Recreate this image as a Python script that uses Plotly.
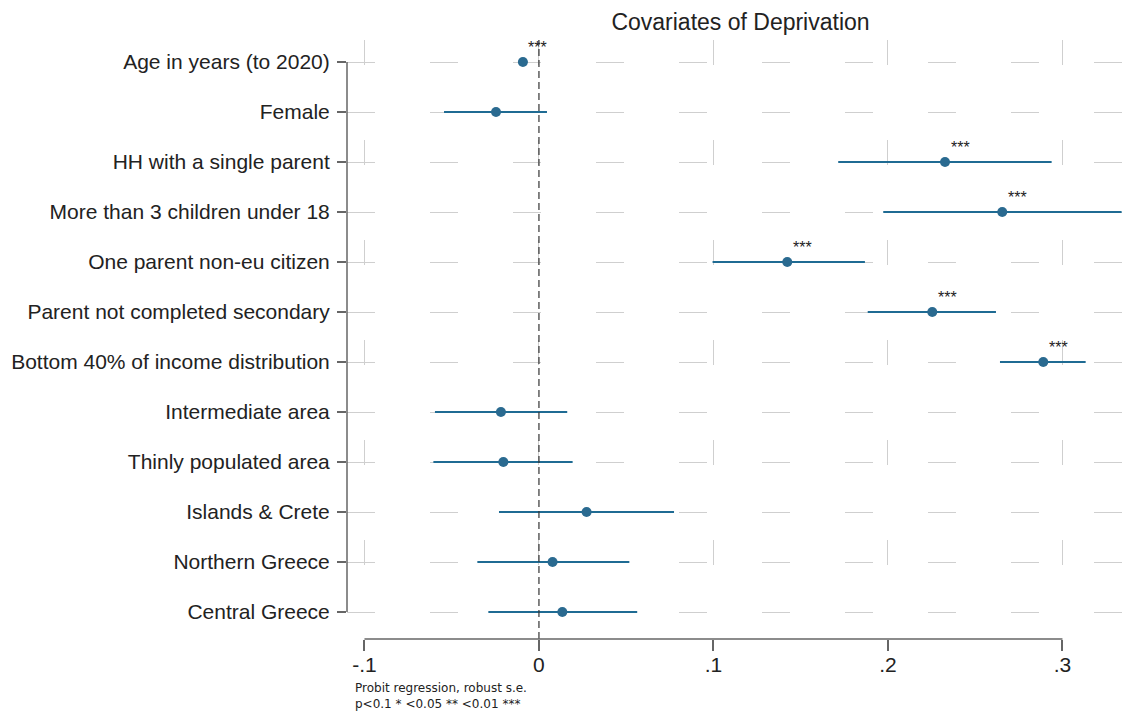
import plotly.graph_objects as go

# ---- data ----
labels = [
    "Age in years (to 2020)",
    "Female",
    "HH with a single parent",
    "More than 3 children under 18",
    "One parent non-eu citizen",
    "Parent not completed secondary",
    "Bottom 40% of income distribution",
    "Intermediate area",
    "Thinly populated area",
    "Islands & Crete",
    "Northern Greece",
    "Central Greece",
]
coef = [-0.0092, -0.0246, 0.2327, 0.2655, 0.1423, 0.2254, 0.2890,
        -0.0218, -0.0204, 0.0273, 0.0078, 0.0134]
ci_lo = [-0.0118, -0.0544, 0.1715, 0.1973, 0.0995, 0.1884, 0.2642,
         -0.0596, -0.0605, -0.0229, -0.0353, -0.0290]
ci_hi = [-0.0066, 0.0046, 0.2938, 0.3339, 0.1868, 0.2619, 0.3133,
         0.0162, 0.0193, 0.0774, 0.0518, 0.0563]
stars = ["***", "", "***", "***", "***", "***", "***", "", "", "", "", ""]
x_tickvals = [-0.1, 0, 0.1, 0.2, 0.3]
x_ticktext = ["-.1", "0", ".1", ".2", ".3"]

rows = list(range(len(labels)))

# page has an 8px body offset; margins compensate for it
W, H = 1134, 724
L, R, T, B = 339, 8, 32, 93
plot_w = W - L - R
plot_h = H - T - B

col = "#1f6b93"
txt = "#222222"
axc = "#666666"

fig = go.Figure()
fig.add_trace(go.Scatter(
    x=coef, y=rows, mode="markers",
    marker=dict(size=10, color="#2a6a90"),
    error_x=dict(type="data", symmetric=False,
                 array=[h - c for h, c in zip(ci_hi, coef)],
                 arrayminus=[c - l for c, l in zip(coef, ci_lo)],
                 thickness=2, width=0, color=col),
    cliponaxis=False, showlegend=False, hoverinfo="skip",
))

annotations = []
for c, r, s in zip(coef, rows, stars):
    if s:
        annotations.append(dict(x=c, y=r, xref="x", yref="y", text=s,
                                showarrow=False, xshift=15, yshift=15,
                                font=dict(size=16, color=txt,
                                          family="Liberation Sans, Arial")))

annotations.append(dict(xref="paper", yref="paper", x=6 / plot_w,
                        y=-57 / plot_h, xanchor="left", yanchor="middle",
                        align="left",
                        text="Probit regression, robust s.e.<br>p<0.1 * <0.05 ** <0.01 ***",
                        showarrow=False,
                        font=dict(size=12, color=txt, family="DejaVu Sans")))

shapes = [
    # zero reference line
    dict(type="line", xref="x", yref="paper", x0=0, x1=0, y0=0, y1=1,
         line=dict(color="#333333", width=1.2, dash="7px,4px"), layer="above"),
    # y axis line spanning first to last category
    dict(type="line", xref="paper", yref="y", x0=0, x1=0,
         y0=rows[0], y1=rows[-1], line=dict(color=axc, width=1.5)),
    # x axis line spanning first to last tick
    dict(type="line", xref="x", yref="paper", x0=x_tickvals[0], x1=x_tickvals[-1],
         y0=0, y1=0, line=dict(color=axc, width=1.5)),
]

fig.update_layout(
    width=W, height=H,
    margin=dict(l=L, r=R, t=T, b=B, autoexpand=False),
    paper_bgcolor="white", plot_bgcolor="white",
    font=dict(family="Liberation Sans, Arial", color=txt),
    title=dict(text="Covariates of Deprivation", x=0.5, xref="paper",
               xanchor="center", y=1 - 14 / H, yref="container",
               yanchor="middle", font=dict(size=23, color=txt)),
    annotations=annotations,
    shapes=shapes,
)

fig.update_xaxes(
    range=[-0.110, 0.341], tickvals=x_tickvals, ticktext=x_ticktext,
    showline=False, zeroline=False,
    ticks="outside", ticklen=11, tickwidth=1.5, tickcolor=axc,
    ticklabelstandoff=-4,
    tickfont=dict(size=21, color=txt),
    showgrid=True, gridcolor="#cfcfcf", gridwidth=1, griddash="25px,75px",
)
fig.update_yaxes(
    range=[rows[-1] + 27 / 50, rows[0] - 22 / 50],
    tickvals=rows, ticktext=labels,
    showline=False, zeroline=False,
    ticks="outside", ticklen=9, tickwidth=1.5, tickcolor=axc,
    ticklabelstandoff=3,
    tickfont=dict(size=21, color=txt),
    showgrid=True, gridcolor="#cfcfcf", gridwidth=1, griddash="28px,55px",
)

fig.write_html("out.html")
